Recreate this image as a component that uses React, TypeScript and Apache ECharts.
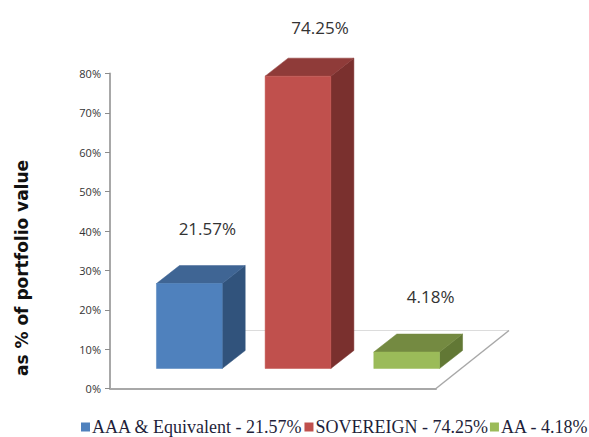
import React, { useEffect, useRef } from "react";
import * as echarts from "echarts";

const categories = ["AAA & Equivalent", "SOVEREIGN", "AA"];
const values = [21.57, 74.25, 4.18];
const legendNames = ["AAA & Equivalent - 21.57%", "SOVEREIGN - 74.25%", "AA - 4.18%"];
const valueLabels = ["21.57%", "74.25%", "4.18%"];
const yTicks = [0, 10, 20, 30, 40, 50, 60, 70, 80];

const frontColors = ["#4f81bd", "#c0504d", "#9bbb59"];
const topColors = ["#3f6594", "#8f3b39", "#748a41"];
const sideColors = ["#31537c", "#7a302e", "#627835"];
const labelGaps = [55, 49, 56];
const labelShifts = [18, 22, 24];

const DEPTH_X = 23;
const DEPTH_Y = 18;
const BASE_LIFT = 20;
const SHIFT_X = 25;
const FLOOR_X = 73;
const FLOOR_Y = 58;

function barRenderer(index: number) {
  return (_params: any, api: any) => {
    const top = api.coord([api.value(0), api.value(1)]);
    const zero = api.coord([api.value(0), 0]);
    const band = api.size([1, 0])[0];
    const w = band * 0.605;
    const cx = top[0] + SHIFT_X;
    const l = cx - w / 2;
    const r = cx + w / 2;
    const t = top[1] - BASE_LIFT;
    const b = zero[1] - BASE_LIFT;
    const poly = (points: number[][], fill: string) => ({
      type: "polygon",
      shape: { points },
      style: { fill, stroke: fill, lineWidth: 0.5 },
    });
    return {
      type: "group",
      children: [
        poly([[r, b], [r + DEPTH_X, b - DEPTH_Y], [r + DEPTH_X, t - DEPTH_Y], [r, t]], sideColors[index]),
        poly([[l, t], [r, t], [r + DEPTH_X, t - DEPTH_Y], [l + DEPTH_X, t - DEPTH_Y]], topColors[index]),
        poly([[l, t], [r, t], [r, b], [l, b]], frontColors[index]),
        {
          type: "text",
          x: cx + labelShifts[index],
          y: t - labelGaps[index],
          style: {
            text: valueLabels[index],
            fill: "#333",
            font: '17px "Open Sans", sans-serif',
            align: "center",
            verticalAlign: "middle",
          },
        },
      ],
    };
  };
}

function floorRenderer(params: any) {
  const { x, y, width, height } = params.coordSys;
  const bottom = y + height;
  const right = x + width;
  return {
    type: "group",
    children: [
      {
        type: "line",
        shape: { x1: x + 70, y1: bottom - FLOOR_Y, x2: right + FLOOR_X, y2: bottom - FLOOR_Y },
        style: { stroke: "#dcdcdc", lineWidth: 1 },
      },
      {
        type: "line",
        shape: { x1: right, y1: bottom, x2: right + FLOOR_X, y2: bottom - FLOOR_Y },
        style: { stroke: "#a8a8a8", lineWidth: 1.5 },
      },
    ],
  };
}

export default function App() {
  const ref = useRef<HTMLDivElement>(null);
  useEffect(() => {
    const chart = echarts.init(ref.current!, null, { renderer: "svg" });
    chart.setOption({
      animation: false,
      backgroundColor: "#ffffff",
      grid: { left: 110, right: 153, top: 73.5, bottom: 48.5 },
      legend: {
        left: 81,
        top: 418,
        width: 560,
        padding: 0,
        itemWidth: 9,
        itemHeight: 9,
        itemGap: 2,
        icon: "rect",
        data: legendNames.map((name, i) => ({ name, itemStyle: { color: frontColors[i] } })),
        textStyle: {
          fontFamily: '"Liberation Serif", serif',
          fontSize: 18,
          color: "#1f1f3a",
          padding: [0, 0, 0, -3],
        },
      },
      xAxis: {
        type: "category",
        data: categories,
        axisTick: { show: false },
        axisLabel: { show: false },
        axisLine: { lineStyle: { color: "#a8a8a8", width: 2 } },
      },
      yAxis: {
        type: "value",
        min: yTicks[0],
        max: yTicks[yTicks.length - 1],
        interval: 10,
        splitLine: { show: false },
        axisLine: { show: true, lineStyle: { color: "#a8a8a8", width: 2 } },
        axisTick: { show: true, length: 5, lineStyle: { color: "#8c8c8c", width: 1 } },
        axisLabel: {
          formatter: "{value}%",
          color: "#333",
          fontFamily: '"Open Sans", sans-serif',
          fontSize: 11,
          margin: 9,
        },
      },
      graphic: [
        {
          type: "text",
          x: 22,
          y: 268,
          rotation: Math.PI / 2,
          style: {
            text: "as % of portfolio value",
            fill: "#111",
            font: 'bold 17px "DejaVu Sans", sans-serif',
            align: "center",
            verticalAlign: "middle",
          },
        },
      ],
      series: [
        {
          type: "custom",
          silent: true,
          renderItem: floorRenderer,
          data: [[categories[0], 0]],
        },
        ...categories.map((cat, i) => ({
          type: "custom",
          name: legendNames[i],
          renderItem: barRenderer(i),
          itemStyle: { color: frontColors[i] },
          data: [[cat, values[i]]],
        })),
      ],
    });
    return () => chart.dispose();
  }, []);
  return <div ref={ref} style={{ position: "fixed", left: 0, top: 0, width: 589, height: 437 }} />;
}
